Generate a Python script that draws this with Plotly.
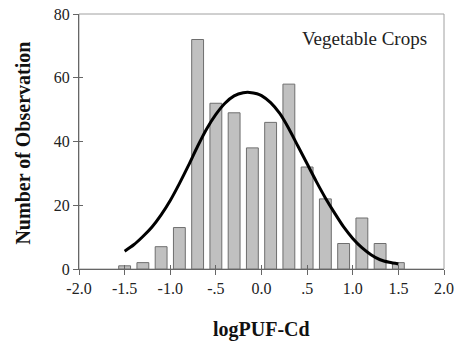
import plotly.graph_objects as go

bin_centers = [-1.5, -1.3, -1.1, -0.9, -0.7, -0.5, -0.3, -0.1, 0.1, 0.3, 0.5, 0.7, 0.9, 1.1, 1.3, 1.5]
counts = [1, 2, 7, 13, 72, 52, 49, 38, 46, 58, 32, 22, 8, 16, 8, 2]

curve_x = [-1.5, -1.4, -1.3, -1.2, -1.1, -1.0, -0.9, -0.8, -0.7, -0.6, -0.5, -0.4, -0.3, -0.2, -0.13,
           -0.05, 0.0, 0.1, 0.2, 0.3, 0.4, 0.5, 0.6, 0.7, 0.8, 0.9, 1.0, 1.1, 1.2, 1.3, 1.4, 1.5]
curve_y = [5.6, 7.6, 10.2, 13.2, 17.0, 21.5, 26.8, 32.5, 38.5, 44.0, 48.5, 52.0, 54.3, 55.3, 55.4,
           55.0, 54.4, 52.2, 48.8, 44.0, 38.5, 33.0, 27.5, 22.3, 17.6, 13.2, 9.6, 6.7, 4.5, 2.9, 2.1, 1.6]

x_tickvals = [-2.0, -1.5, -1.0, -0.5, 0.0, 0.5, 1.0, 1.5, 2.0]
x_ticktext = ["-2.0", "-1.5", "-1.0", "-.5", "0.0", ".5", "1.0", "1.5", "2.0"]
y_tickvals = [0, 20, 40, 60, 80]

font_family = "Liberation Serif"
axis_col = "#666666"

fig = go.Figure()
fig.add_trace(go.Bar(
    x=bin_centers, y=counts, width=0.13,
    marker=dict(color="#c0c0c0", line=dict(color="#6e6e6e", width=1)),
    showlegend=False,
))
fig.add_trace(go.Scatter(
    x=curve_x, y=curve_y, mode="lines",
    line=dict(color="black", width=3, shape="spline", smoothing=0.8),
    showlegend=False,
))

fig.update_layout(
    width=455, height=342,
    margin=dict(l=79, r=11, t=14, b=73),
    plot_bgcolor="white", paper_bgcolor="white",
    font=dict(family=font_family, color="#222222", size=16),
    xaxis=dict(
        range=[-2.0, 2.0], tickvals=x_tickvals, ticktext=x_ticktext,
        showgrid=False, zeroline=False, showline=True, linecolor=axis_col, linewidth=1,
        ticks="outside", ticklen=5, tickcolor=axis_col, automargin=False,
        tickfont=dict(family=font_family, size=16, color="#222222"),
    ),
    yaxis=dict(
        range=[0, 80], tickvals=y_tickvals,
        showgrid=False, zeroline=False, showline=True, linecolor=axis_col, linewidth=1,
        ticks="outside", ticklen=5, tickcolor=axis_col, automargin=False,
        tickfont=dict(family=font_family, size=16, color="#222222"),
    ),
    xaxis2=dict(
        range=[-2.0, 2.0], tickvals=x_tickvals, showticklabels=False, overlaying="x",
        showgrid=False, zeroline=False, ticks="inside", ticklen=4, tickcolor=axis_col,
        side="bottom", anchor="y",
    ),
    yaxis2=dict(
        range=[0, 80], tickvals=y_tickvals, showticklabels=False, overlaying="y",
        showgrid=False, zeroline=False, ticks="inside", ticklen=4, tickcolor=axis_col,
        side="left", anchor="x",
    ),
    shapes=[dict(type="rect", xref="paper", yref="paper", x0=0, y0=0, x1=1, y1=1,
                 line=dict(color="#a0a0a0", width=1), layer="below")],
    annotations=[
        dict(text="Vegetable Crops", xref="paper", yref="paper", x=0.958, y=0.902,
             xanchor="right", yanchor="middle", showarrow=False,
             font=dict(family=font_family, size=19, color="#222222")),
        dict(text="<b>logPUF-Cd</b>", xref="paper", yref="paper", x=0.501, y=-0.239,
             xanchor="center", yanchor="middle", showarrow=False,
             font=dict(family=font_family, size=20, color="#111111")),
        dict(text="<b>Number of Observation</b>", xref="paper", yref="paper", x=-0.156, y=0.492,
             xanchor="center", yanchor="middle", showarrow=False, textangle=-90,
             font=dict(family=font_family, size=20, color="#111111")),
    ],
)
# invisible trace to activate the overlay axes for crossing tick marks
fig.add_trace(go.Scatter(x=[None], y=[None], xaxis="x2", yaxis="y2", showlegend=False, hoverinfo="skip"))

# remove the browser's default 8px body margin so the figure fills the window
fig.write_html("out.html", config={"displayModeBar": False},
               post_script="document.body.style.margin='0';")
